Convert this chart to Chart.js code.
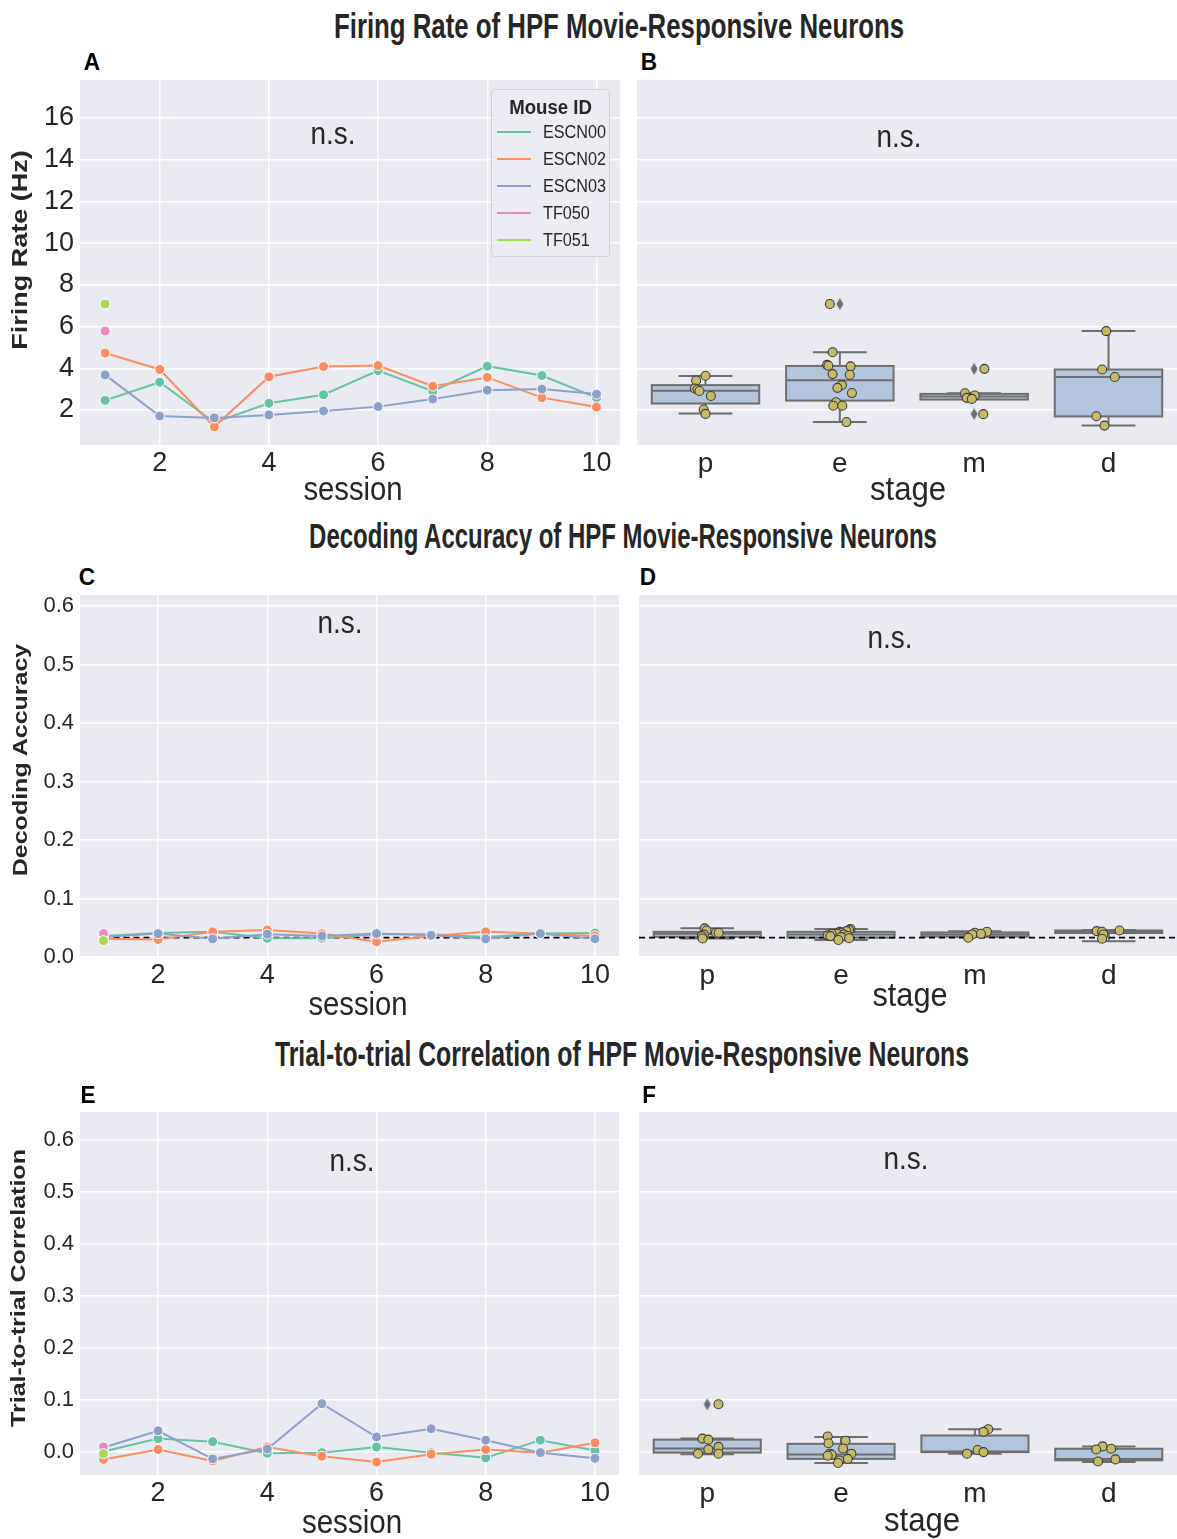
<!DOCTYPE html>
<html><head><meta charset="utf-8">
<script src="https://cdn.jsdelivr.net/npm/chart.js@4.4.1/dist/chart.umd.min.js"></script>
<style>
html,body{margin:0;padding:0;background:#fff}
body{position:relative;width:1177px;height:1539px;overflow:hidden;color:#262626;font-family:'Liberation Sans',Arial,sans-serif}
canvas{position:absolute}
.tx{position:absolute;white-space:nowrap;transform:translate(-50%,-50%);line-height:1;z-index:5}
.main{font-weight:bold;font-size:35px}
.letter{font-weight:bold;font-size:24px;color:#000}
.ylab{font-weight:bold}
.xlab{font-size:34px}
.ns{font-size:31px}
#legend{position:absolute;left:491px;top:89px;width:117px;height:166px;border:1px solid #d2d2da;border-radius:4px;background:rgba(236,236,244,0.85);z-index:4}
#legend .lt{position:absolute;left:0;width:100%;top:6px;text-align:center;font-weight:bold;font-size:20px;transform:scaleX(0.93)}
#legend .row{position:absolute;left:5px;height:20px}
#legend .sw{position:absolute;left:0;top:9px;width:34px;height:2px}
#legend .lab{position:absolute;left:46px;top:0;font-size:18px;line-height:20px;transform:scaleX(0.9);transform-origin:0 50%}
</style></head><body>
<canvas id="cA" width="625" height="435" style="left:0;top:75px"></canvas>
<canvas id="cB" width="547" height="435" style="left:630px;top:75px"></canvas>
<canvas id="cC" width="624" height="432" style="left:0;top:590px"></canvas>
<canvas id="cD" width="547" height="432" style="left:630px;top:590px"></canvas>
<canvas id="cE" width="624" height="432" style="left:0;top:1107px"></canvas>
<canvas id="cF" width="547" height="432" style="left:630px;top:1107px"></canvas>
<div id="legend"></div>
<script>
// ---------- data ----------
const sessions = [1,2,3,4,5,6,7,8,9,10];
const mice = ['ESCN00','ESCN02','ESCN03','TF050','TF051'];
const stages = ['p','e','m','d'];
const sessionTicks = [2,4,6,8,10];
const frTicks = [2,4,6,8,10,12,14,16];
const corrTicks = [0.0,0.1,0.2,0.3,0.4,0.5,0.6];

// Firing rate (Hz) per session
const frESCN00 = [2.46,3.33,1.40,2.32,2.73,3.89,2.90,4.10,3.65,2.59];
const frESCN02 = [4.73,3.94,1.19,3.59,4.08,4.13,3.14,3.56,2.59,2.14];
const frESCN03 = [3.68,1.71,1.62,1.76,1.95,2.16,2.52,2.95,3.00,2.76];
const frTF050 = [5.78];
const frTF051 = [7.08];

// Decoding accuracy per session
const daESCN00 = [0.036,0.041,0.043,0.032,0.032,0.039,0.039,0.034,0.040,0.041];
const daESCN02 = [0.031,0.030,0.043,0.046,0.040,0.026,0.036,0.043,0.040,0.036];
const daESCN03 = [0.034,0.040,0.031,0.039,0.036,0.040,0.037,0.031,0.040,0.031];
const daTF050 = [0.040];
const daTF051 = [0.028];
const daChance = 0.0333;

// Trial-to-trial correlation per session
const tcESCN00 = [0.001,0.026,0.020,-0.002,-0.001,0.010,-0.001,-0.011,0.023,0.003];
const tcESCN02 = [-0.014,0.005,-0.017,0.010,-0.008,-0.019,-0.004,0.005,-0.001,0.018];
const tcESCN03 = [0.009,0.041,-0.013,0.006,0.093,0.029,0.045,0.023,-0.001,-0.012];
const tcTF050 = [0.010];
const tcTF051 = [-0.003];

// Box statistics per stage (p, e, m, d)
const frBoxLow  = [1.83,1.42,2.53,1.25];
const frBoxQ1   = [2.31,2.45,2.50,1.69];
const frBoxMed  = [2.92,3.42,2.64,3.58];
const frBoxQ3   = [3.19,4.11,2.77,3.94];
const frBoxHigh = [3.63,4.77,2.80,5.78];
const frOutStage = [1,2,2];
const frOutVal   = [7.08,3.97,1.81];
const frStripVals = [
  [3.64,3.41,3.03,2.98,2.91,2.67,2.02,1.81],
  [7.08,4.77,4.16,4.12,4.09,3.72,3.69,3.19,3.06,2.81,2.37,2.20,2.20,1.42],
  [3.97,2.80,2.69,2.58,2.53,1.80],
  [5.78,3.94,3.58,1.70,1.25]];
const frStripJitter = [
  [0.0,-0.07,-0.08,-0.06,-0.045,0.04,-0.014,0.0],
  [-0.074,-0.054,-0.095,-0.085,0.08,-0.054,0.074,0.015,-0.018,0.09,-0.028,-0.049,0.018,0.049],
  [0.076,-0.068,0.004,-0.055,-0.017,0.068],
  [-0.017,-0.047,0.047,-0.09,-0.03]];

const daBoxLow  = [0.0317,0.029,0.034,0.027];
const daBoxQ1   = [0.0345,0.033,0.035,0.041];
const daBoxMed  = [0.0397,0.0386,0.0386,0.0431];
const daBoxQ3   = [0.043,0.043,0.042,0.0454];
const daBoxHigh = [0.049,0.048,0.044,0.046];
const daOutStage = [];
const daOutVal   = [];
const daStripVals = [
  [0.049,0.0454,0.0414,0.0414,0.0386,0.0357,0.0317],
  [0.048,0.046,0.0443,0.043,0.0414,0.040,0.0397,0.0386,0.037,0.036,0.0357,0.034,0.032,0.029],
  [0.0431,0.0414,0.0397,0.0386,0.0329],
  [0.0454,0.0443,0.0431,0.0386,0.0312]];
const daStripJitter = [
  [-0.02,-0.005,0.065,0.085,-0.025,-0.04,-0.035],
  [0.07,0.06,0.04,-0.01,0.0,-0.03,-0.07,0.02,-0.1,0.05,-0.08,0.0,0.06,-0.02],
  [0.09,0.0,0.045,-0.02,-0.05],
  [0.08,-0.09,-0.05,-0.04,-0.05]];

const tcBoxLow  = [-0.004,-0.021,-0.003,-0.019];
const tcBoxQ1   = [-0.001,-0.013,0.0,-0.0157];
const tcBoxMed  = [0.007,-0.0046,0.0013,-0.013];
const tcBoxQ3   = [0.024,0.016,0.032,0.0065];
const tcBoxHigh = [0.026,0.029,0.044,0.011];
const tcOutStage = [0];
const tcOutVal   = [0.092];
const tcStripVals = [
  [0.092,0.026,0.024,0.010,0.005,-0.003,-0.003],
  [0.030,0.022,0.017,0.007,-0.003,-0.003,-0.005,-0.007,-0.013,-0.016,-0.021],
  [0.044,0.039,0.004,0.0,-0.003],
  [0.011,0.0065,0.005,-0.014,-0.018]];
const tcStripJitter = [
  [0.084,-0.036,0.008,0.084,0.008,0.084,-0.069],
  [-0.1,0.033,-0.094,0.015,0.077,-0.084,-0.07,-0.1,0.05,-0.013,-0.023],
  [0.1,0.064,0.02,0.064,-0.059],
  [-0.046,0.018,-0.094,0.05,-0.08]];

// ---------- styling ----------
const mouseColors = ['#66c2a5','#fc8d62','#8da0cb','#e78ac3','#a6d854'];
const SANS = "'Liberation Sans',Arial,sans-serif";
const BG = '#eaeaf2';
const TXT = '#262626';

const bgPlugin = {id:'bgfill', beforeDraw(c){const a=c.chartArea,x=c.ctx;x.save();x.fillStyle=BG;x.fillRect(a.left,a.top,a.right-a.left,a.bottom-a.top);x.restore();}};

function makeBoxPlugin(low,q1,med,q3,high){
  return {id:'boxes', beforeDatasetsDraw(c){
    const xs=c.scales.x, ys=c.scales.y, ctx=c.ctx;
    ctx.save();
    for(let i=0;i<med.length;i++){
      const xc=xs.getPixelForValue(i), hw=xs.getPixelForValue(i+0.4)-xc, cw=hw/2;
      const yl=ys.getPixelForValue(low[i]), y1=ys.getPixelForValue(q1[i]), ym=ys.getPixelForValue(med[i]),
            y3=ys.getPixelForValue(q3[i]), yh=ys.getPixelForValue(high[i]);
      ctx.strokeStyle='#6e6e6e'; ctx.lineWidth=2;
      ctx.beginPath();
      ctx.moveTo(xc,y1); ctx.lineTo(xc,yl);
      ctx.moveTo(xc,y3); ctx.lineTo(xc,yh);
      ctx.moveTo(xc-cw,yl); ctx.lineTo(xc+cw,yl);
      ctx.moveTo(xc-cw,yh); ctx.lineTo(xc+cw,yh);
      ctx.stroke();
      ctx.fillStyle='#b3c5dc';
      ctx.fillRect(xc-hw,y3,2*hw,y1-y3);
      ctx.strokeRect(xc-hw,y3,2*hw,y1-y3);
      ctx.beginPath(); ctx.moveTo(xc-hw,ym); ctx.lineTo(xc+hw,ym); ctx.stroke();
    }
    ctx.restore();
  }};
}

function thinDiamond(){
  const cv=document.createElement('canvas'); cv.width=8; cv.height=13;
  const g=cv.getContext('2d'); g.fillStyle='#6e6e6e';
  g.beginPath(); g.moveTo(4,0.5); g.lineTo(7.5,6.5); g.lineTo(4,12.5); g.lineTo(0.5,6.5); g.closePath(); g.fill();
  return cv;
}
const diamondImg = thinDiamond();

function lineSets(series){
  return series.map((arr,k)=>({
    label:mice[k], data:arr.map((v,i)=>({x:sessions[i],y:v})),
    showLine:true, borderColor:mouseColors[k], backgroundColor:mouseColors[k], borderWidth:2,
    pointRadius:5, pointBackgroundColor:mouseColors[k], pointBorderColor:'#ffffff', pointBorderWidth:1,
    order:10-k
  }));
}
function stripSets(vals,jit,outStage,outVal){
  const pts=[];
  vals.forEach((arr,s)=>arr.forEach((v,j)=>pts.push({x:s+jit[s][j],y:v})));
  const sets=[{label:'points',data:pts,pointRadius:4.5,pointBackgroundColor:'#c8bb67',pointBorderColor:'#3c3c3c',pointBorderWidth:1.1,order:1}];
  if(outStage.length) sets.push({label:'outliers',data:outStage.map((s,i)=>({x:s,y:outVal[i]})),pointStyle:diamondImg,pointRadius:6,order:2});
  return sets;
}

function makeChart(id,cfg){
  return new Chart(document.getElementById(id),{
    type:'scatter',
    data:{datasets:cfg.datasets},
    plugins:[bgPlugin].concat(cfg.plugins||[]),
    options:{
      responsive:false, animation:false, devicePixelRatio:1,
      layout:{padding:cfg.pad,autoPadding:false},
      plugins:{legend:{display:false},tooltip:{enabled:false}},
      scales:{
        x:{type:'linear',min:cfg.xMin,max:cfg.xMax,
          afterBuildTicks:s=>{s.ticks=cfg.xTicks.map(v=>({value:v}));},
          afterFit:s=>{s.height=cfg.xH;s.paddingLeft=0;s.paddingRight=0;},
          grid:{display:cfg.xGrid,color:'#ffffff',lineWidth:1.4,drawTicks:false},
          border:{display:false},
          ticks:{padding:cfg.xPad,color:TXT,font:{family:SANS,size:cfg.xFont},maxRotation:0,autoSkip:false,callback:cfg.xCb}},
        y:{type:'linear',min:cfg.yMin,max:cfg.yMax,
          afterBuildTicks:s=>{s.ticks=cfg.yTicks.map(v=>({value:v}));},
          afterFit:s=>{s.width=cfg.yW;s.paddingTop=0;s.paddingBottom=0;},
          grid:{color:'#ffffff',lineWidth:1.4,drawTicks:false},
          border:{display:false},
          ticks:{display:cfg.yShow,padding:6,color:TXT,font:cfg.yFont,callback:cfg.yCb}}
      }
    }
  });
}

const intCb = v=>String(v);
const decCb = v=>v.toFixed(1);
const stageCb = v=>stages[Math.round(v)];
const stageTicks = stages.map((s,i)=>i);

// A
makeChart('cA',{datasets:lineSets([frESCN00,frESCN02,frESCN03,frTF050,frTF051]),
  pad:{left:0,right:5,top:5,bottom:0},xMin:0.54,xMax:10.43,xTicks:sessionTicks,xH:65,xGrid:true,xPad:2,xFont:27,xCb:intCb,
  yMin:0.32,yMax:17.82,yTicks:frTicks,yW:80,yShow:true,yFont:{family:SANS,size:27},yCb:intCb});
// B
makeChart('cB',{datasets:stripSets(frStripVals,frStripJitter,frOutStage,frOutVal),plugins:[makeBoxPlugin(frBoxLow,frBoxQ1,frBoxMed,frBoxQ3,frBoxHigh)],
  pad:{left:0,right:0,top:5,bottom:0},xMin:-0.51,xMax:3.51,xTicks:stageTicks,xH:65,xGrid:false,xPad:2,xFont:28,xCb:stageCb,
  yMin:0.32,yMax:17.82,yTicks:frTicks,yW:7,yShow:false,yFont:{family:SANS,size:27},yCb:intCb});
// C
const cSets = lineSets([daESCN00,daESCN02,daESCN03,daTF050,daTF051]);
cSets.push({label:'chance',data:[{x:sessions[0],y:daChance},{x:sessions[sessions.length-1],y:daChance}],showLine:true,borderColor:'#000',borderWidth:1.8,borderDash:[6,4],pointRadius:0,order:20});
makeChart('cC',{datasets:cSets,
  pad:{left:0,right:5,top:5,bottom:0},xMin:0.57,xMax:10.44,xTicks:sessionTicks,xH:65,xGrid:true,xPad:2,xFont:27,xCb:intCb,
  yMin:0.0,yMax:0.619,yTicks:corrTicks,yW:80,yShow:true,yFont:{family:SANS,size:22},yCb:decCb});
// D
const dSets = stripSets(daStripVals,daStripJitter,daOutStage,daOutVal);
dSets.push({label:'chance',data:[{x:-0.51,y:daChance},{x:3.51,y:daChance}],showLine:true,borderColor:'#000',borderWidth:1.8,borderDash:[6,4],pointRadius:0,order:5});
makeChart('cD',{datasets:dSets,plugins:[makeBoxPlugin(daBoxLow,daBoxQ1,daBoxMed,daBoxQ3,daBoxHigh)],
  pad:{left:0,right:0,top:5,bottom:0},xMin:-0.51,xMax:3.51,xTicks:stageTicks,xH:65,xGrid:false,xPad:2,xFont:28,xCb:stageCb,
  yMin:0.0,yMax:0.619,yTicks:corrTicks,yW:9,yShow:false,yFont:{family:SANS,size:22},yCb:decCb});
// E
makeChart('cE',{datasets:lineSets([tcESCN00,tcESCN02,tcESCN03,tcTF050,tcTF051]),
  pad:{left:0,right:5,top:5,bottom:0},xMin:0.57,xMax:10.44,xTicks:sessionTicks,xH:64,xGrid:true,xPad:2,xFont:27,xCb:intCb,
  yMin:-0.044,yMax:0.654,yTicks:corrTicks,yW:80,yShow:true,yFont:{family:SANS,size:22},yCb:decCb});
// F
makeChart('cF',{datasets:stripSets(tcStripVals,tcStripJitter,tcOutStage,tcOutVal),plugins:[makeBoxPlugin(tcBoxLow,tcBoxQ1,tcBoxMed,tcBoxQ3,tcBoxHigh)],
  pad:{left:0,right:0,top:5,bottom:0},xMin:-0.51,xMax:3.51,xTicks:stageTicks,xH:64,xGrid:false,xPad:2,xFont:28,xCb:stageCb,
  yMin:-0.044,yMax:0.654,yTicks:corrTicks,yW:9,yShow:false,yFont:{family:SANS,size:22},yCb:decCb});

// ---------- text ----------
function addText(txt,x,y,cls,fitW){
  const d=document.createElement('div');d.className='tx '+cls;d.textContent=txt;
  d.style.left=x+'px';d.style.top=y+'px';document.body.appendChild(d);
  if(fitW){const w=d.offsetWidth;d.style.transform='translate(-50%,-50%) scaleX('+(fitW/w)+')';}
  return d;
}
function addYLabel(txt,x,y,size){
  const d=document.createElement('div');d.className='tx ylab';d.textContent=txt;d.style.fontSize=size+'px';
  d.style.left=x+'px';d.style.top=y+'px';d.style.transform='translate(-50%,-50%) scaleX(0.82) rotate(-90deg)';
  document.body.appendChild(d);
}
addText('Firing Rate of HPF Movie-Responsive Neurons',619,25,'main',570);
addText('Decoding Accuracy of HPF Movie-Responsive Neurons',623,535,'main',628);
addText('Trial-to-trial Correlation of HPF Movie-Responsive Neurons',622,1053,'main',694);
addText('A',92,62,'letter',16); addText('B',649,62,'letter',16);
addText('C',87,577,'letter',16); addText('D',648,577,'letter',16);
addText('E',88,1095,'letter',15); addText('F',649,1095,'letter',14);
addYLabel('Firing Rate (Hz)',20,250,27);
addYLabel('Decoding Accuracy',20,760,25);
addYLabel('Trial-to-trial Correlation',18,1288,25);
addText('session',353,488,'xlab',99); addText('stage',908,488,'xlab',76);
addText('session',358,1003,'xlab',99); addText('stage',910,994,'xlab',75);
addText('session',352,1521,'xlab',100); addText('stage',922,1519,'xlab',76);
addText('n.s.',333,133,'ns',45); addText('n.s.',899,136,'ns',45);
addText('n.s.',340,622,'ns',45); addText('n.s.',890,637,'ns',45);
addText('n.s.',352,1160,'ns',45); addText('n.s.',906,1158,'ns',45);

// legend
const lg=document.getElementById('legend');
const lt=document.createElement('div');lt.className='lt';lt.textContent='Mouse ID';lg.appendChild(lt);
mice.forEach((m,k)=>{
  const r=document.createElement('div');r.className='row';r.style.top=(32+k*27)+'px';
  const sw=document.createElement('div');sw.className='sw';sw.style.background=mouseColors[k];r.appendChild(sw);
  const lb=document.createElement('div');lb.className='lab';lb.textContent=m;r.appendChild(lb);
  lg.appendChild(r);
});
</script>
</body></html>
